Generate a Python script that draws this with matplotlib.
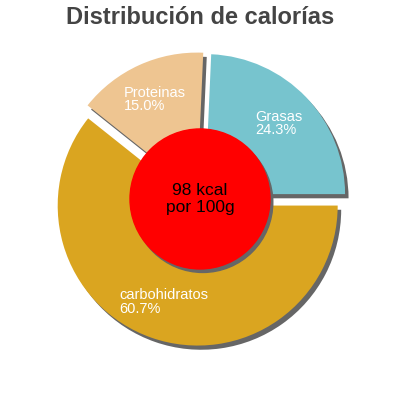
import matplotlib.pyplot as plt
import matplotlib.patches as patches

plt.rcParams['font.family'] = ['Liberation Sans', 'DejaVu Sans']

nutrientes = ["Grasas", "Proteinas", "carbohidratos"]
porcentajes = [24.3, 15.0, 60.7]
colores = ["#77C4CE", "#EEC591", "#DAA520"]
kcal = 98

fig = plt.figure(figsize=(4, 4), dpi=100)
ax = fig.add_axes([0, 0, 1, 1])

explode = [0.05] * len(porcentajes)

# sombra: el mismo pastel en gris, desplazado
ax.pie(porcentajes, explode=explode, startangle=0,
       colors=["#666666"] * len(porcentajes), center=(0.025, -0.03))

etiquetas = ["%s\n%.1f%%" % (n, p) for n, p in zip(nutrientes, porcentajes)]
wedges, textos = ax.pie(porcentajes, explode=explode, startangle=0,
                        colors=colores,
                        labels=etiquetas, labeldistance=0.73,
                        textprops={"color": "white", "fontsize": 10.5})
for t in textos:
    t.set_ha("center")
    t.set_va("center")
    t.set_multialignment("left")
    t.set_linespacing(0.95)

# circulo central con su sombra
ax.add_patch(patches.Circle((0.02, -0.025), 0.5, color="#666666", zorder=3))
ax.add_patch(patches.Circle((0, 0), 0.5, color="#FF0000", zorder=4))
ax.text(0, 0, "%d kcal\npor 100g" % kcal, ha="center", va="center",
        fontsize=12.5, color="black", zorder=5, linespacing=1.1)

ax.set_xlim(-1.4286, 1.4286)
ax.set_ylim(-1.436, 1.421)
ax.set_aspect("equal")
ax.axis("off")

fig.text(0.5, 0.955, "Distribución de calorías", ha="center", va="center",
         fontsize=17, fontweight="bold", color="#444444")

fig.savefig("out.png", dpi=100)
